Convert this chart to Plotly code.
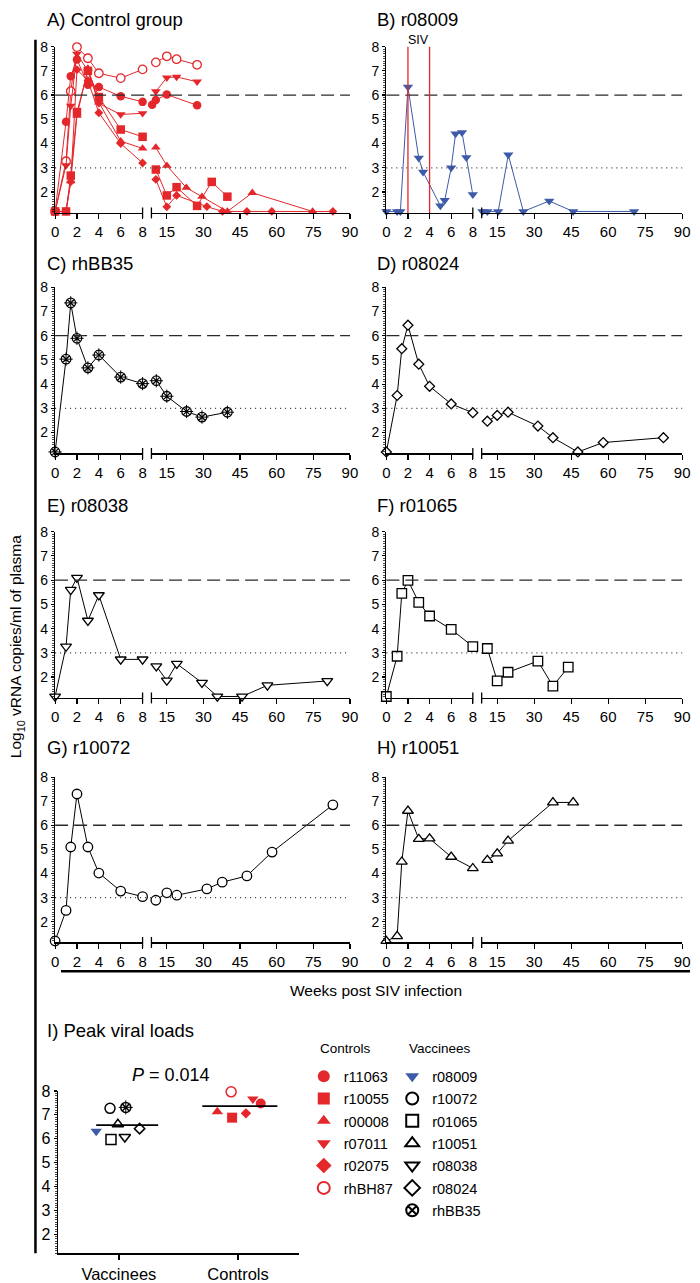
import plotly.graph_objects as go

# ------------------------------------------------------------------ data
# weeks post SIV infection / log10 vRNA copies per ml of plasma
rhBH87_weeks = [0, 1, 1.43, 2, 3, 4, 6, 8, 10.5, 15, 19, 27.4]
rhBH87_vl = [1.2, 3.27, 6.16, 7.98, 7.52, 6.9, 6.7, 7.06, 7.35, 7.6, 7.48, 7.25]

r07011_weeks = [0, 1, 1.43, 2, 3, 4, 6, 8, 10.5, 15, 19, 27.4]
r07011_vl = [1.2, 3.1, 5.55, 7.7, 7.0, 5.65, 5.2, 5.25, 6.15, 6.72, 6.75, 6.55]

r11063_weeks = [0, 1, 1.43, 2, 3, 4, 6, 8, 9, 10.5, 15, 27.4]
r11063_vl = [1.2, 4.9, 6.78, 7.47, 6.43, 6.33, 5.95, 5.72, 5.6, 5.8, 6.02, 5.58]

r10055_weeks = [0, 1, 1.43, 2, 3, 4, 6, 8, 10.5, 15, 19, 27.4, 33.4, 39.8]
r10055_vl = [1.2, 1.2, 2.68, 5.3, 7.0, 5.92, 4.58, 4.28, 2.93, 1.86, 2.2, 1.43, 2.42, 1.81]

r00008_weeks = [0, 1, 1.43, 2, 3, 4, 6, 8, 10.5, 15, 23, 29.4, 39.8, 50, 74.7]
r00008_vl = [1.2, 1.2, 2.45, 5.15, 7.1, 5.7, 4.1, 3.8, 3.84, 3.09, 2.18, 1.81, 1.2, 1.97, 1.2]

r02075_weeks = [0, 1, 1.43, 2, 3, 4, 6, 8, 10.5, 15, 19, 31.4, 37.8, 47.8, 58, 83]
r02075_vl = [1.2, 1.2, 2.42, 7.05, 6.6, 5.27, 4.0, 3.2, 2.52, 1.39, 1.86, 1.4, 1.2, 1.2, 1.2, 1.2]

r08009_weeks = [0, 1, 1.3, 2, 3, 3.4, 5, 5.4, 6, 6.4, 7, 7.4, 8, 9, 11, 15.4, 19.5, 25.6, 36.1, 45.8, 70.5]
r08009_vl = [1.2, 1.2, 1.2, 6.33, 3.4, 2.83, 1.43, 1.66, 3.0, 4.4, 4.46, 3.43, 1.9, 1.2, 1.2, 1.2, 3.54, 1.2, 1.63, 1.2, 1.2]

rhBB35_weeks = [0, 1, 1.43, 2, 3, 4, 6, 8, 10.7, 15, 23.1, 29.4, 39.8]
rhBB35_vl = [1.2, 5.03, 7.35, 5.89, 4.67, 5.2, 4.29, 4.02, 4.14, 3.5, 2.87, 2.64, 2.84]

r08024_weeks = [0, 1, 1.43, 2, 3, 4, 6, 8, 11, 15, 19.4, 31.5, 37.6, 47.7, 58, 82.4]
r08024_vl = [1.2, 3.53, 5.46, 6.43, 4.82, 3.91, 3.18, 2.82, 2.47, 2.71, 2.84, 2.27, 1.79, 1.2, 1.59, 1.79]

r08038_weeks = [0, 1, 1.43, 2, 3, 4, 6, 8, 10.7, 15, 19.1, 29.4, 35.7, 45.8, 56.2, 80.7]
r08038_vl = [1.2, 3.26, 5.6, 6.1, 4.33, 5.38, 2.73, 2.73, 2.45, 1.86, 2.55, 1.77, 1.2, 1.2, 1.66, 1.84]

r01065_weeks = [0, 1, 1.43, 2, 3, 4, 6, 8, 11, 15, 19.4, 31.5, 37.6, 43.8]
r01065_vl = [1.2, 2.86, 5.45, 5.99, 5.08, 4.52, 3.97, 3.26, 3.18, 1.84, 2.2, 2.66, 1.63, 2.41]

r10072_weeks = [0, 1, 1.43, 2, 3, 4, 6, 8, 10.5, 15, 19.1, 31.4, 37.7, 47.8, 58.1, 83]
r10072_vl = [1.2, 2.47, 5.1, 7.3, 5.1, 4.02, 3.27, 3.04, 2.89, 3.2, 3.1, 3.36, 3.64, 3.9, 4.89, 6.85]

r10051_weeks = [0, 1, 1.43, 2, 3, 4, 6, 8, 11, 15, 19.4, 37.6, 45.8]
r10051_vl = [1.2, 1.4, 4.49, 6.6, 5.43, 5.45, 4.69, 4.22, 4.56, 4.83, 5.36, 6.95, 6.95]

control_names = ["r11063", "r10055", "r00008", "r07011", "r02075", "rhBH87"]
control_peaks = [7.47, 6.88, 7.13, 7.66, 7.06, 7.96]
vaccinee_names = ["r08009", "r10072", "r01065", "r10051", "r08038", "r08024", "rhBB35"]
vaccinee_peaks = [6.31, 7.27, 5.97, 6.6, 6.07, 6.42, 7.31]

panel_titles = ["A) Control group", "B) r08009", "C) rhBB35", "D) r08024",
                "E) r08038", "F) r01065", "G) r10072", "H) r10051"]
panel_animals = [["rhBH87", "r07011", "r11063", "r10055", "r00008", "r02075"],
                 ["r08009"], ["rhBB35"], ["r08024"], ["r08038"], ["r01065"],
                 ["r10072"], ["r10051"]]
left_ticks = [0, 2, 4, 6, 8]
right_ticks = [15, 30, 45, 60, 75, 90]
group_labels = ["Vaccinees", "Controls"]
p_value_text = "<i>P</i> = 0.014"

series = {
    "rhBH87": (rhBH87_weeks, rhBH87_vl), "r07011": (r07011_weeks, r07011_vl),
    "r11063": (r11063_weeks, r11063_vl), "r10055": (r10055_weeks, r10055_vl),
    "r00008": (r00008_weeks, r00008_vl), "r02075": (r02075_weeks, r02075_vl),
    "r08009": (r08009_weeks, r08009_vl), "rhBB35": (rhBB35_weeks, rhBB35_vl),
    "r08024": (r08024_weeks, r08024_vl), "r08038": (r08038_weeks, r08038_vl),
    "r01065": (r01065_weeks, r01065_vl), "r10072": (r10072_weeks, r10072_vl),
    "r10051": (r10051_weeks, r10051_vl),
}

# ------------------------------------------------------------------ styles
W, H = 700, 1283
RED = "#E3272B"
BLUE = "#3D5BA9"
WHITE = "#FFFFFF"
BLACK = "#000000"
FONT = "Liberation Sans, Arial, Helvetica, sans-serif"

STYLE = {
    "r11063": dict(symbol="circle", fill=RED, edge=RED, line=RED),
    "r10055": dict(symbol="square", fill=RED, edge=RED, line=RED),
    "r00008": dict(symbol="triangle-up", fill=RED, edge=RED, line=RED),
    "r07011": dict(symbol="triangle-down", fill=RED, edge=RED, line=RED),
    "r02075": dict(symbol="diamond", fill=RED, edge=RED, line=RED),
    "rhBH87": dict(symbol="circle", fill=WHITE, edge=RED, line=RED),
    "r08009": dict(symbol="triangle-down", fill=BLUE, edge=BLUE, line=BLUE),
    "r10072": dict(symbol="circle", fill=WHITE, edge=BLACK, line=BLACK),
    "r01065": dict(symbol="square", fill=WHITE, edge=BLACK, line=BLACK),
    "r10051": dict(symbol="triangle-up", fill=WHITE, edge=BLACK, line=BLACK),
    "r08038": dict(symbol="triangle-down", fill=WHITE, edge=BLACK, line=BLACK),
    "r08024": dict(symbol="diamond", fill=WHITE, edge=BLACK, line=BLACK),
    "rhBB35": dict(symbol="circle-x", fill=WHITE, edge=BLACK, line=BLACK),
}
SIZE_FACTOR = {"diamond": 0.8}
panel_marker_size = [8.5, 9, 9.5, 9.5, 9.5, 9.5, 9.5, 9.5]
peak_jitter_v = [-0.19, -0.074, -0.066, -0.008, 0.05, 0.174, 0.058]
peak_jitter_c = [0.19, -0.05, -0.174, 0.124, 0.066, -0.058]

col_px = [(52, 141, 150, 352), (389, 477, 486, 690)]
row_px = [(39, 207), (282, 450), (529, 697), (777, 944)]
title_y = [12, 258, 503, 747]
title_x = [42, 377]
YMIN, YMAX = 1.14, 8
RMIN = 8.7


def fx(p):
    return p / W


def fy(p):
    return 1 - p / H


def tref(kind, i):
    return kind if i == 1 else f"{kind}{i}"


def lref(kind, i):
    return f"{kind}axis" if i == 1 else f"{kind}axis{i}"


fig = go.Figure()


def marker_for(name, size, lw):
    st = STYLE[name]
    s = size * SIZE_FACTOR.get(st["symbol"], 1.0)
    return dict(symbol=st["symbol"], size=s, color=st["fill"],
                line=dict(color=st["edge"], width=lw))


def add_overlay(name, xs, ys, xa, ya, size):
    if name == "rhBB35":
        fig.add_trace(go.Scatter(
            x=xs, y=ys, xaxis=xa, yaxis=ya, mode="markers",
            marker=dict(symbol="cross-thin-open", size=size, color=BLACK,
                        line=dict(color=BLACK, width=1)),
            showlegend=False, hoverinfo="skip", cliponaxis=False))


layout = {}
shapes = []
annotations = []

tickfont = dict(family=FONT, size=15, color=BLACK)
yfont = dict(family=FONT, size=14, color=BLACK)
TITLE_SIZE = 18.5

for k, (title, animals) in enumerate(zip(panel_titles, panel_animals)):
    r, c = divmod(k, 2)
    l0, l1, r0, r1 = col_px[c]
    top, bot = row_px[r]
    xl, xr, yi = 2 * k + 1, 2 * k + 2, k + 1
    size = panel_marker_size[k]
    lw = 0 if k in (0, 1) else 1.2
    for name in animals:
        wk, vl = series[name]
        for cond, xa in ((lambda w: w <= 8, xl), (lambda w: w > 8, xr)):
            xs = [w for w in wk if cond(w)]
            ys = [v for w, v in zip(wk, vl) if cond(w)]
            mlw = 1.3 if STYLE[name]["fill"] == WHITE else lw
            fig.add_trace(go.Scatter(
                x=xs, y=ys, xaxis=tref("x", xa), yaxis=tref("y", yi),
                mode="lines+markers",
                line=dict(color=STYLE[name]["line"], width=1),
                marker=marker_for(name, size, mlw),
                showlegend=False, hoverinfo="skip", cliponaxis=False))
            add_overlay(name, xs, ys, tref("x", xa), tref("y", yi), size)

    common_x = dict(showline=True, linecolor=BLACK, linewidth=1.3, ticks="outside",
                    ticklen=5, tickwidth=1.2, tickcolor=BLACK, tickfont=tickfont,
                    showgrid=False, zeroline=False, anchor=tref("y", yi), fixedrange=True)
    layout[lref("x", xl)] = dict(common_x, domain=[fx(l0), fx(l1)], range=[0, 8],
                                 tickvals=left_ticks)
    layout[lref("x", xr)] = dict(common_x, domain=[fx(r0), fx(r1)], range=[RMIN, 90],
                                 tickvals=right_ticks)
    layout[lref("y", yi)] = dict(
        domain=[fy(bot), fy(top)], range=[YMIN, YMAX], anchor=tref("x", xl),
        showline=True, linecolor=BLACK, linewidth=1.3, ticks="outside", ticklen=3,
        tickwidth=1.2, tickcolor=BLACK, tickmode="linear", tick0=0, dtick=1,
        tickfont=yfont, showgrid=False, zeroline=False, fixedrange=True,
        minor=dict(ticks="outside", ticklen=2, tickwidth=0.7, tickcolor=BLACK, dtick=0.1))

    # reference lines at 6 (dashed) and 3 (dotted)
    shapes.append(dict(type="line", xref="paper", yref=tref("y", yi),
                       x0=fx(l0), x1=fx(r1), y0=6, y1=6,
                       line=dict(color="#2a2a2a", width=1.4, dash="13px,6px")))
    shapes.append(dict(type="line", xref="paper", yref=tref("y", yi),
                       x0=fx(l0), x1=fx(r1), y0=3, y1=3,
                       line=dict(color="#333333", width=1.2, dash="1px,4px")))
    # axis break marks
    for bx in (l1, r0):
        shapes.append(dict(type="line", xref="paper", yref="paper",
                           x0=fx(bx), x1=fx(bx), y0=fy(bot - 5.5), y1=fy(bot + 5.5),
                           line=dict(color=BLACK, width=1.3)))
    annotations.append(dict(text=title, x=fx(title_x[c]), y=fy(title_y[r]),
                            xref="paper", yref="paper", xanchor="left", yanchor="middle",
                            showarrow=False,
                            font=dict(family=FONT, size=TITLE_SIZE, color=BLACK)))

# SIV challenge lines in panel B
for wv in (2, 4):
    shapes.append(dict(type="line", xref="x3", yref="y2", x0=wv, x1=wv,
                       y0=YMIN, y1=YMAX, line=dict(color=RED, width=1.3)))
annotations.append(dict(text="SIV", x=3, y=fy(32), xref="x3", yref="paper", showarrow=False,
                        xanchor="center", yanchor="middle",
                        font=dict(family=FONT, size=12.5, color=BLACK)))

# ------------------------------------------------------------------ panel I
XI, YI = 17, 9
for names, peaks, jit, gi, leg in ((control_names, control_peaks, peak_jitter_c, 1, "legend"),
                                   (vaccinee_names, vaccinee_peaks, peak_jitter_v, 0, "legend2")):
    for name, pk, j in zip(names, peaks, jit):
        fig.add_trace(go.Scatter(
            x=[gi + j], y=[pk], xaxis=tref("x", XI), yaxis=tref("y", YI), mode="markers",
            name=name, legend=leg, legendgroup=name, showlegend=True,
            marker=marker_for(name, 10, 1.5 if STYLE[name]["fill"] == WHITE else 0),
            hoverinfo="skip", cliponaxis=False))
        add_overlay(name, [gi + j], [pk], tref("x", XI), tref("y", YI), 10)
    mean = sum(peaks) / len(peaks)
    x0, x1 = (gi - 0.19, gi + 0.33) if gi == 0 else (gi - 0.30, gi + 0.33)
    shapes.append(dict(type="line", xref=tref("x", XI), yref=tref("y", YI),
                       x0=x0, x1=x1, y0=mean, y1=mean, line=dict(color=BLACK, width=1.8)))

layout[lref("x", XI)] = dict(
    domain=[fx(55), fx(300)], range=[-0.51, 1.51], anchor=tref("y", YI),
    tickvals=[0, 1], ticktext=group_labels, showline=True, linecolor=BLACK, linewidth=1.5,
    ticks="outside", ticklen=5, tickwidth=1.3, tickcolor=BLACK,
    tickfont=dict(family=FONT, size=16.5, color=BLACK), showgrid=False, zeroline=False,
    fixedrange=True)
layout[lref("y", YI)] = dict(
    domain=[fy(1258), fy(1094)], range=[1.2, 8], anchor=tref("x", XI),
    showline=True, linecolor=BLACK, linewidth=1.5, ticks="outside", ticklen=3,
    tickwidth=1.3, tickcolor=BLACK, tickmode="linear", tick0=0, dtick=1,
    tickfont=dict(family=FONT, size=16, color=BLACK), showgrid=False, zeroline=False,
    fixedrange=True,
    minor=dict(ticks="outside", ticklen=2, tickwidth=0.7, tickcolor=BLACK, dtick=0.1))

annotations += [
    dict(text="I) Peak viral loads", x=fx(42), y=fy(1033), xref="paper", yref="paper",
         xanchor="left", yanchor="middle", showarrow=False,
         font=dict(family=FONT, size=TITLE_SIZE, color=BLACK)),
    dict(text=p_value_text, x=fx(170), y=fy(1078), xref="paper", yref="paper",
         xanchor="center", yanchor="middle", showarrow=False,
         font=dict(family=FONT, size=18, color=BLACK)),
    dict(text="Controls", x=fx(319), y=fy(1051), xref="paper", yref="paper",
         xanchor="left", yanchor="middle", showarrow=False,
         font=dict(family=FONT, size=13.5, color=BLACK)),
    dict(text="Vaccinees", x=fx(410), y=fy(1051), xref="paper", yref="paper",
         xanchor="left", yanchor="middle", showarrow=False,
         font=dict(family=FONT, size=13.5, color=BLACK)),
    dict(text="Weeks post SIV infection", x=fx(378), y=fy(993), xref="paper", yref="paper",
         xanchor="center", yanchor="middle", showarrow=False,
         font=dict(family=FONT, size=15.5, color=BLACK)),
    dict(text="Log<sub>10</sub> vRNA copies/ml of plasma", x=fx(13), y=fy(645),
         xref="paper", yref="paper", xanchor="center", yanchor="middle", textangle=-90,
         showarrow=False, font=dict(family=FONT, size=15.5, color=BLACK)),
]

# frame lines: left bracket and x-title bar
shapes.append(dict(type="line", xref="paper", yref="paper", x0=fx(32), x1=fx(32),
                   y0=fy(32), y1=fy(1258), line=dict(color=BLACK, width=2.5)))
shapes.append(dict(type="line", xref="paper", yref="paper", x0=fx(58), x1=fx(698),
                   y0=fy(973), y1=fy(973), line=dict(color=BLACK, width=2.5)))

legend_common = dict(yanchor="top", xanchor="left", bgcolor="rgba(0,0,0,0)",
                     font=dict(family=FONT, size=14.5, color=BLACK),
                     itemsizing="constant", tracegroupgap=0.5, traceorder="grouped",
                     borderwidth=0, itemclick=False, itemdoubleclick=False)
layout["legend"] = dict(legend_common, x=fx(305), y=fy(1063))
layout["legend2"] = dict(legend_common, x=fx(395), y=fy(1063))

fig.update_layout(
    width=W, height=H, margin=dict(l=0, r=0, t=0, b=0), autosize=False,
    paper_bgcolor=WHITE, plot_bgcolor=WHITE, font=dict(family=FONT, color=BLACK),
    shapes=shapes, annotations=annotations, **layout)

fig.write_html("out.html", config={"displayModeBar": False, "staticPlot": True},
               post_script="document.body.style.margin='0px';")
